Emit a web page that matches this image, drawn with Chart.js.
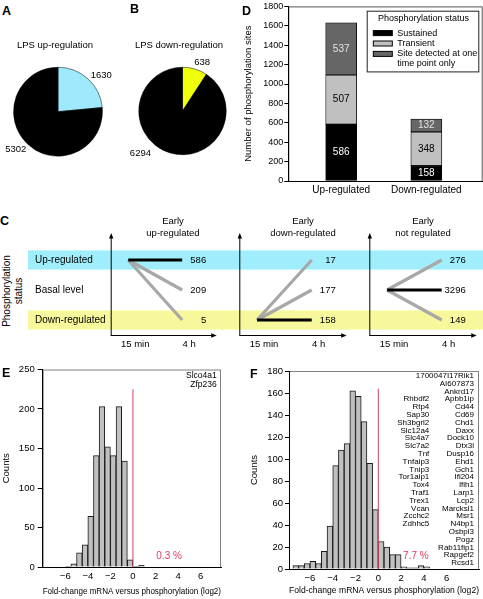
<!DOCTYPE html>
<html>
<head>
<meta charset="utf-8">
<title>LPS phosphorylation figure</title>
<script src="https://cdn.jsdelivr.net/npm/chart.js@4.4.1/dist/chart.umd.min.js"></script>
<style>
  html, body { margin: 0; padding: 0; background: #fff; }
  #fig { position: relative; width: 483px; height: 599px; overflow: hidden;
         font-family: "Liberation Sans", Arial, sans-serif; color: #000; }
  #fig canvas { position: absolute; }
  .lbl { position: absolute; font-size: 9.5px; line-height: 11.5px; white-space: nowrap; text-align: center; }
  .letter { position: absolute; font-size: 12.5px; font-weight: bold; line-height: 13px; }
</style>
</head>
<body>
<div id="fig">
  <canvas id="pieA" width="125" height="115" style="left:0;top:55px"></canvas>
  <canvas id="pieB" width="115" height="115" style="left:125px;top:55px"></canvas>
  <canvas id="barD" width="243" height="208" style="left:240px;top:0"></canvas>
  <canvas id="c1" width="208" height="128" style="left:28px;top:225px"></canvas>
  <canvas id="c2" width="130" height="128" style="left:236px;top:225px"></canvas>
  <canvas id="c3" width="117" height="128" style="left:366px;top:225px"></canvas>
  <canvas id="histE" width="240" height="239" style="left:0;top:360px"></canvas>
  <canvas id="histF" width="243" height="239" style="left:240px;top:360px"></canvas>

  <div class="letter" style="left:2px;top:5px">A</div>
  <div class="letter" style="left:130px;top:3px">B</div>
  <div class="letter" style="left:242px;top:5px">D</div>
  <div class="letter" style="left:0;top:215px">C</div>
  <div class="letter" style="left:2px;top:367px">E</div>
  <div class="letter" style="left:250px;top:368px">F</div>

  <div class="lbl" style="left:0;top:39px;width:110px">LPS up-regulation</div>
  <div class="lbl" style="left:124px;top:39px;width:110px">LPS down-regulation</div>

  <div class="lbl" style="left:113px;top:215px;width:120px">Early<br>up-regulated</div>
  <div class="lbl" style="left:243px;top:215px;width:120px">Early<br>down-regulated</div>
  <div class="lbl" style="left:363px;top:215px;width:120px">Early<br>not regulated</div>
  <div class="lbl" style="left:-27.5px;top:279px;width:80px;height:24px;font-size:10px;line-height:12px;transform:rotate(-90deg)">Phosphorylation<br>status</div>
</div>

<script>
// A / B: LPS regulated vs rest
const upSlices = [1630, 5302];
const downSlices = [638, 6294];

// D: phosphorylation status per group
const dCategories = ["Up-regulated", "Down-regulated"];
const dCategoryX = [1, 2];
const sustained = [586, 158];
const transient = [507, 348];
const singlePoint = [537, 132];

// C: 15 min -> 4 h transitions
const rowNames = ["Up-regulated", "Basal level", "Down-regulated"];
const rowLevels = [2, 1, 0];
const timeLabels = ["15 min", "4 h"];
const timeX = [1, 2];
const earlyUpCounts = [586, 209, 5];
const earlyDownCounts = [17, 177, 158];
const earlyNotCounts = [276, 3296, 149];

// E / F: histograms, bin width 0.5
const xTickValues = [-6, -4, -2, 0, 2, 4, 6];
const eBinCenters = [-5.75, -5.25, -4.75, -4.25, -3.75, -3.25, -2.75, -2.25, -1.75, -1.25, -0.75, -0.25, 0.25, 0.75];
const eCounts = [1, 4, 18, 28, 64, 141, 203, 152, 141, 203, 134, 9, 1, 2];
const fBinCenters = [-7.25, -6.75, -6.25, -5.75, -5.25, -4.75, -4.25, -3.75, -3.25, -2.75, -2.25, -1.75, -1.25, -0.75, -0.25, 0.25, 0.75, 1.25, 1.75, 2.25, 2.75, 3.25, 3.75, 4.25];
const fCounts = [3, 3, 5, 7, 5, 16, 39, 94, 108, 114, 162, 157, 134, 96, 54, 25, 20, 13, 13, 2, 1, 1, 3, 2];
const thresholdX = 0;
const eThresholdTop = 225;
const fThresholdTop = 164;
const ePercent = "0.3 %";
const fPercent = "7.7 %";
const eGenes = ["Slco4a1", "Zfp236"];
const fGenesRight = ["1700047I17Rik1", "AI607873", "Ankrd17", "Apbb1ip", "Cd44", "Cd69", "Chd1", "Daxx", "Dock10", "Dtx3l", "Dusp16", "Ehd1", "Gch1", "Ifi204", "Ifih1", "Larp1", "Lcp2", "Marcksl1", "Msr1", "N4bp1", "Osbpl3", "Pogz", "Rab11fip1", "Rapgef2", "Rcsd1"];
const fGenesLeft = ["Rhbdf2", "Rtp4", "Sap30", "Sh3bgrl2", "Slc12a4", "Slc4a7", "Slc7a2", "Tnf", "Tnfaip3", "Tnip3", "Tor1aip1", "Tox4", "Traf1", "Trex1", "Vcan", "Zcchc2", "Zdhhc5"];

const FONT = '"Liberation Sans", Arial, sans-serif';
Chart.defaults.font.family = FONT;
Chart.defaults.font.size = 9;
Chart.defaults.color = "#000";
Chart.defaults.animation = false;
Chart.defaults.responsive = false;
Chart.defaults.maintainAspectRatio = false;
Chart.defaults.plugins.legend.display = false;
Chart.defaults.plugins.tooltip.enabled = false;

const minus = v => (v < 0 ? "\u2212" + Math.abs(v) : String(v));

// ---------- pies ----------
const pieLabelPlugin = {
  id: "pieLabels",
  afterDraw(chart, args, opts) {
    const ctx = chart.ctx;
    const { x, y, outerRadius } = chart.getDatasetMeta(0).data[0];
    ctx.save();
    ctx.font = "9.5px " + FONT;
    ctx.fillStyle = "#000";
    ctx.textAlign = "center";
    ctx.textBaseline = "middle";
    chart.data.datasets[0].data.forEach((v, i) => {
      const [deg, f] = opts.at[i];
      const a = (deg * Math.PI) / 180;
      ctx.fillText(String(v), x + Math.cos(a) * outerRadius * f, y + Math.sin(a) * outerRadius * f);
    });
    ctx.restore();
  },
};

function makePie(id, values, colors, padding, labelAt) {
  return new Chart(document.getElementById(id), {
    type: "pie",
    data: {
      datasets: [{ data: values, backgroundColor: colors, borderColor: "#000", borderWidth: 0.5 }],
    },
    options: { layout: { padding }, plugins: { pieLabels: { at: labelAt } } },
    plugins: [pieLabelPlugin],
  });
}

makePie("pieA", upSlices, ["#9ee9fb", "#000"], { left: 13.3, right: 22.3, top: 11.7, bottom: 13.3 }, [[-40, 1.27], [138, 1.28]]);
makePie("pieB", downSlices, ["#f0ff0a", "#000"], { left: 13.5, right: 13.5, top: 12, bottom: 15 }, [[-68, 1.2], [135, 1.36]]);

// ---------- D: stacked bars ----------
const dPlugin = {
  id: "dPanel",
  beforeDraw(chart) {
    const { ctx, chartArea: a } = chart;
    ctx.save();
    ctx.strokeStyle = "#555";
    ctx.lineWidth = 1;
    ctx.strokeRect(a.left + 0.5, a.top + 0.5, a.right - a.left - 1, a.bottom - a.top);
    ctx.restore();
  },
  afterDatasetsDraw(chart, args, opts) {
    const ctx = chart.ctx;
    ctx.save();
    ctx.font = "10px " + FONT;
    ctx.textAlign = "center";
    ctx.textBaseline = "middle";
    chart.data.datasets.forEach((ds, i) => {
      ctx.fillStyle = opts.textColors[i];
      chart.getDatasetMeta(i).data.forEach((bar, j) => {
        ctx.fillText(String(ds.data[j].y), bar.x, (bar.y + bar.base) / 2);
      });
    });
    ctx.restore();
  },
  afterDraw(chart, args, opts) {
    const { ctx, chartArea: a } = chart;
    const left = a.right - 116, top = a.top + 4.3;
    ctx.save();
    ctx.fillStyle = "#fff";
    ctx.fillRect(left, top, 111.6, 60.7);
    ctx.strokeStyle = "#222";
    ctx.lineWidth = 1;
    ctx.strokeRect(left + 0.5, top + 0.5, 111.6, 60.7);
    ctx.font = "9px " + FONT;
    ctx.fillStyle = "#000";
    ctx.textBaseline = "middle";
    ctx.fillText(opts.title, left + 11.3, top + 7.6);
    let rowY = top + 22.4;
    chart.data.datasets.forEach(ds => {
      ctx.fillStyle = ds.backgroundColor;
      ctx.fillRect(left + 6.6, rowY - 2.5, 19, 5);
      ctx.strokeStyle = "#000";
      ctx.strokeRect(left + 6.6, rowY - 2.5, 19, 5);
      ctx.fillStyle = "#000";
      // simple word wrap
      const words = ds.label.split(" ");
      let line = "";
      words.forEach(w => {
        const test = line ? line + " " + w : w;
        if (ctx.measureText(test).width > 82 && line) {
          ctx.fillText(line, left + 30.6, rowY);
          rowY += 9.4;
          line = w;
        } else {
          line = test;
        }
      });
      ctx.fillText(line, left + 30.6, rowY);
      rowY += 10.4;
    });
    ctx.restore();
  },
};

const dPoints = vals => dCategoryX.map((x, i) => ({ x, y: vals[i] }));

new Chart(document.getElementById("barD"), {
  type: "bar",
  data: {
    datasets: [
      { label: "Sustained", data: dPoints(sustained), backgroundColor: "#000" },
      { label: "Transient", data: dPoints(transient), backgroundColor: "#c0c0c0" },
      { label: "Site detected at one time point only", data: dPoints(singlePoint), backgroundColor: "#666666" },
    ].map(ds => ({ ...ds, borderColor: "#000", borderWidth: 0.8, borderSkipped: false, barThickness: 31 })),
  },
  options: {
    layout: { padding: { top: 5, right: 0.3, left: 0, bottom: 0 } },
    scales: {
      x: {
        type: "linear",
        stacked: true,
        offset: false,
        min: 0.379,
        max: 2.662,
        afterBuildTicks: s => { s.ticks = dCategoryX.map(v => ({ value: v })); },
        ticks: { callback: (v, i) => dCategories[i], padding: 3, maxRotation: 0, autoSkip: false, font: { size: 10 } },
        grid: { display: false, drawTicks: false },
        border: { color: "#000" },
        afterFit: s => { s.height = 27; },
      },
      y: {
        stacked: true,
        min: 0,
        max: 1800,
        ticks: { stepSize: 200, padding: 1, callback: v => String(v) },
        grid: { drawOnChartArea: false, tickLength: 4, color: "#000" },
        border: { color: "#000" },
        title: { display: true, text: "Number of phosphorylation sites", font: { size: 9.5 }, padding: { top: 3, bottom: 0 } },
        afterFit: s => { s.width = 48.3; },
      },
    },
    plugins: { dPanel: { textColors: ["#fff", "#000", "#e4e4e4"], title: "Phosphorylation status" } },
  },
  plugins: [dPlugin],
});

// ---------- C: transition schematic ----------
const bandColors = ["#a0eefc", null, "#f7f79c"];

const cPlugin = {
  id: "cPanel",
  beforeDraw(chart, args, o) {
    const { ctx, width, scales: { y } } = chart;
    ctx.save();
    bandColors.forEach((col, r) => {
      if (!col) return;
      const top = y.getPixelForValue(rowLevels[r] + 0.32);
      const bot = y.getPixelForValue(rowLevels[r] - 0.32);
      ctx.fillStyle = col;
      ctx.fillRect(0, top, width, bot - top);
    });
    if (o.rowLabels) {
      ctx.font = "10px " + FONT;
      ctx.fillStyle = "#000";
      ctx.textBaseline = "middle";
      rowNames.forEach((name, r) => ctx.fillText(name, 7, y.getPixelForValue(rowLevels[r])));
    }
    ctx.restore();
  },
  afterDraw(chart, args, o) {
    const { ctx, chartArea: a, scales: { x, y } } = chart;
    ctx.save();
    ctx.strokeStyle = "#000";
    ctx.fillStyle = "#000";
    ctx.lineWidth = 1;
    ctx.beginPath();
    ctx.moveTo(a.left + 0.5, a.bottom + 0.5);
    ctx.lineTo(a.left + 0.5, a.top + 4);
    ctx.moveTo(a.left, a.bottom + 0.5);
    ctx.lineTo(a.right - 4, a.bottom + 0.5);
    ctx.stroke();
    // arrow heads
    ctx.beginPath();
    ctx.moveTo(a.left + 0.5, a.top);
    ctx.lineTo(a.left - 1.7, a.top + 5.5);
    ctx.lineTo(a.left + 2.7, a.top + 5.5);
    ctx.closePath();
    ctx.moveTo(a.right, a.bottom + 0.5);
    ctx.lineTo(a.right - 5.5, a.bottom - 1.7);
    ctx.lineTo(a.right - 5.5, a.bottom + 2.7);
    ctx.closePath();
    ctx.fill();
    ctx.font = "9.5px " + FONT;
    ctx.textAlign = "right";
    ctx.textBaseline = "middle";
    o.counts.forEach((n, r) => ctx.fillText(String(n), x.getPixelForValue(timeX[1]) + 24, y.getPixelForValue(rowLevels[r])));
    ctx.restore();
  },
};

function makeTransition(id, start, counts, padding, rowLabels) {
  const datasets = counts.map((n, r) => ({
    data: [{ x: timeX[0], y: rowLevels[start] }, { x: timeX[1], y: rowLevels[r] }],
    borderColor: r === start ? "#000" : "#a8a8a8",
    borderWidth: 3.2,
    borderCapStyle: "butt",
    pointRadius: 0,
    order: r === start ? 0 : 1,
  }));
  return new Chart(document.getElementById(id), {
    type: "line",
    data: { datasets },
    options: {
      layout: { padding },
      scales: {
        x: {
          type: "linear",
          min: 0.675,
          max: 2.64,
          afterBuildTicks: s => { s.ticks = timeX.map(v => ({ value: v })); },
          ticks: { callback: (v, i) => timeLabels[i], padding: 4, labelOffset: 7, maxRotation: 0, autoSkip: false, font: { size: 9.5 } },
          grid: { display: false, drawTicks: false },
          border: { display: false },
          afterFit: s => { s.height = 18; },
        },
        y: { display: false, min: -0.5, max: 2.9 },
      },
      plugins: { cPanel: { counts, rowLabels } },
    },
    plugins: [cPlugin],
  });
}

makeTransition("c1", 0, earlyUpCounts, { left: 82.7, right: 19.3, top: 8, bottom: 0 }, true);
makeTransition("c2", 2, earlyDownCounts, { left: 3.3, right: 19.3, top: 8, bottom: 0 }, false);
makeTransition("c3", 1, earlyNotCounts, { left: 3.3, right: 6.3, top: 8, bottom: 0 }, false);

// ---------- E / F: histograms ----------
const histPlugin = {
  id: "histPanel",
  beforeDraw(chart) {
    const { ctx, chartArea: a } = chart;
    ctx.save();
    ctx.strokeStyle = "#808080";
    ctx.lineWidth = 1;
    ctx.strokeRect(a.left + 0.5, a.top + 0.5, a.right - a.left - 1, a.bottom - a.top);
    ctx.restore();
  },
  afterDraw(chart, args, o) {
    const { ctx, chartArea: a, scales: { x, y } } = chart;
    ctx.save();
    ctx.font = "10px " + FONT;
    ctx.fillStyle = "#d9405e";
    ctx.textAlign = "center";
    ctx.textBaseline = "middle";
    ctx.fillText(o.percent, x.getPixelForValue(o.percentAt[0]), y.getPixelForValue(o.percentAt[1]));
    ctx.fillStyle = "#000";
    ctx.textAlign = "right";
    ctx.font = o.geneFont + "px " + FONT;
    o.columns.forEach(col => {
      col.names.forEach((name, i) => {
        ctx.fillText(name, a.right - col.inset, a.top + o.firstLine + (col.startRow + i) * o.step);
      });
    });
    ctx.restore();
  },
};

function makeHist(id, centers, counts, cfg) {
  return new Chart(document.getElementById(id), {
    type: "bar",
    data: {
      datasets: [
        {
          type: "line",
          data: [{ x: thresholdX, y: 0 }, { x: thresholdX, y: cfg.thresholdTop }],
          borderColor: "#d2405c",
          borderWidth: 1,
          pointRadius: 0,
          order: 0,
        },
        {
          data: centers.map((c, i) => ({ x: c, y: counts[i] })),
          backgroundColor: "#c0c0c0",
          borderColor: "#1a1a1a",
          borderWidth: 1,
          barPercentage: 1,
          categoryPercentage: 1,
          order: 1,
        },
      ],
    },
    options: {
      layout: { padding: cfg.padding },
      scales: {
        x: {
          type: "linear",
          offset: false,
          min: cfg.xMin,
          max: cfg.xMax,
          afterBuildTicks: s => { s.ticks = xTickValues.map(v => ({ value: v })); },
          ticks: { callback: v => minus(v), padding: 4, maxRotation: 0, autoSkip: false, font: { size: 9.5 } },
          grid: { display: false, drawTicks: false },
          border: { color: "#000" },
          title: { display: true, text: "Fold-change mRNA versus phosphorylation (log2)", font: { size: 9.5 }, padding: { top: 0, bottom: cfg.xTitlePad } },
          afterFit: s => { s.height = cfg.xAxisHeight; },
        },
        y: {
          min: 0,
          max: cfg.yMax,
          ticks: { stepSize: cfg.yStep, padding: cfg.tickPad, font: { size: 9.5 } },
          grid: { drawOnChartArea: false, tickLength: cfg.tickLen, color: "#000" },
          border: { color: "#000" },
          title: { display: true, text: "Counts", font: { size: 9.5 }, padding: { top: cfg.yTitlePad, bottom: 0 } },
          afterFit: s => { s.width = cfg.yAxisWidth; },
        },
      },
      plugins: { histPanel: cfg.labels },
    },
    plugins: [histPlugin],
  });
}

makeHist("histE", eBinCenters, eCounts, {
  padding: { top: 9.5, right: 19, left: 0, bottom: 0 },
  xMin: -8, xMax: 7.8, yMax: 250, yStep: 50,
  thresholdTop: eThresholdTop,
  xAxisHeight: 32, yAxisWidth: 42.7, xTitlePad: 1.6, yTitlePad: 0.3, tickLen: 5, tickPad: 3,
  labels: {
    percent: ePercent, percentAt: [3.2, 13], geneFont: 8.5, firstLine: 6.2, step: 8.6,
    columns: [{ names: eGenes, inset: 4.3, startRow: 0 }],
  },
});

makeHist("histF", fBinCenters, fCounts, {
  padding: { top: 11, right: 4, left: 0, bottom: 0 },
  xMin: -7.84, xMax: 8.84, yMax: 180, yStep: 20,
  thresholdTop: fThresholdTop,
  xAxisHeight: 30, yAxisWidth: 49, xTitlePad: 3.3, yTitlePad: 8.3, tickLen: 4, tickPad: 2,
  labels: {
    percent: fPercent, percentAt: [3.3, 12], geneFont: 8, firstLine: 4.7, step: 7.8,
    columns: [
      { names: fGenesRight, inset: 5, startRow: 0 },
      { names: fGenesLeft, inset: 49.7, startRow: 3 },
    ],
  },
});
</script>
</body>
</html>
